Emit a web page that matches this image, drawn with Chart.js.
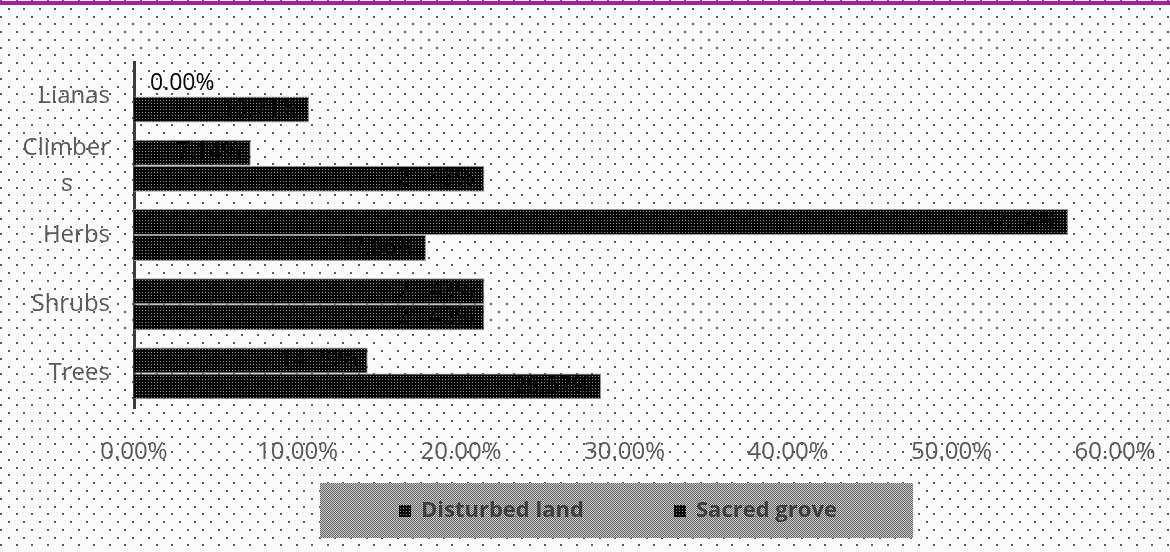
<!DOCTYPE html>
<html>
<head>
<meta charset="utf-8">
<script src="https://cdn.jsdelivr.net/npm/chart.js@4/dist/chart.umd.min.js"></script>
<style>
  html, body { margin: 0; padding: 0; background: #fff; }
  #wrap { width: 1170px; height: 552px; position: relative; }
</style>
</head>
<body>
<div id="wrap"><canvas id="myChart" width="1170" height="552"></canvas></div>
<script>
'use strict';

// data

let categories = ['Lianas', ['Climber', 's\u00a0\u00a0\u00a0\u00a0\u00a0\u00a0'], 'Herbs', 'Shrubs', 'Trees'];
let seriesNames = ['Disturbed land', 'Sacred grove'];
let disturbedLand = [0, 7.14, 57.14, 21.43, 14.29];
let sacredGrove = [10.71, 21.43, 17.86, 21.43, 28.57];
let xTicks = [0, 10, 20, 30, 40, 50, 60];

// patterns

function makeDotsPattern(ctx) {
  let tile = document.createElement('canvas');
  tile.width = 140;
  tile.height = 140;
  let t = tile.getContext('2d');
  t.fillStyle = '#fbfbfb';
  t.fillRect(0, 0, 140, 140);
  t.fillStyle = '#5a5a5a';
  let step = 140 / 9;
  for (let row = 0; row < 18; row++) {
    let y = Math.round(row * step / 2);
    let shift = row % 2 === 0 ? 0 : step / 2;
    for (let col = 0; col < 9; col++) {
      let x = Math.round(col * step + shift);
      t.fillRect(x, y, 2, 2);
    }
  }
  return ctx.createPattern(tile, 'repeat');
}

function makeBarPattern() {
  let tile = document.createElement('canvas');
  tile.width = 3;
  tile.height = 3;
  let t = tile.getContext('2d');
  t.fillStyle = '#050505';
  t.fillRect(0, 0, 3, 3);
  t.fillStyle = '#8c8c8c';
  t.fillRect(1, 1, 1, 1);
  return t.createPattern(tile, 'repeat');
}

function makeCheckerPattern(ctx) {
  let tile = document.createElement('canvas');
  tile.width = 2;
  tile.height = 2;
  let t = tile.getContext('2d');
  t.fillStyle = '#c4c4c4';
  t.fillRect(0, 0, 2, 2);
  t.fillStyle = '#6a6a6a';
  t.fillRect(0, 0, 1, 1);
  t.fillRect(1, 1, 1, 1);
  return ctx.createPattern(tile, 'repeat');
}

let barPattern = makeBarPattern();

function formatPct(v) {
  return v.toFixed(2) + '%';
}

// plugins

const backgroundPlugin = {
  id: 'backgroundPlugin',
  beforeDraw(chart) {
    let ctx = chart.ctx;
    ctx.save();
    ctx.fillStyle = makeDotsPattern(ctx);
    ctx.fillRect(0, 0, chart.width, chart.height);
    ctx.fillStyle = '#a21fa8';
    ctx.fillRect(0, 1, chart.width, 4);
    ctx.restore();
  }
};

const barLabelsPlugin = {
  id: 'barLabelsPlugin',
  afterDatasetsDraw(chart) {
    let ctx = chart.ctx;
    ctx.save();
    ctx.font = '23px "Open Sans"';
    ctx.textBaseline = 'middle';
    chart.data.datasets.forEach((ds, di) => {
      let meta = chart.getDatasetMeta(di);
      meta.data.forEach((bar, i) => {
        let v = ds.data[i];
        ctx.fillStyle = '#000';
        if (v === 0) {
          ctx.textAlign = 'left';
          ctx.fillText(formatPct(v), bar.base + 16, bar.y);
        } else {
          ctx.textAlign = 'right';
          ctx.fillText(formatPct(v), bar.x - 10, bar.y);
        }
      });
    });
    ctx.restore();
  }
};

const legendBoxPlugin = {
  id: 'legendBoxPlugin',
  afterDraw(chart) {
    let ctx = chart.ctx;
    ctx.save();
    ctx.fillStyle = makeCheckerPattern(ctx);
    ctx.fillRect(320, 483, 593, 55);
    let items = [
      { x: 399, label: seriesNames[0] },
      { x: 674, label: seriesNames[1] }
    ];
    ctx.font = 'bold 22px "Open Sans"';
    ctx.textBaseline = 'middle';
    ctx.textAlign = 'left';
    items.forEach(item => {
      ctx.fillStyle = barPattern;
      ctx.fillRect(item.x, 505, 12, 12);
      ctx.fillStyle = '#3f3f3f';
      ctx.fillText(item.label, item.x + 22, 511);
    });
    ctx.restore();
  }
};

// chart

const ctx = document.getElementById('myChart');
new Chart(ctx, {
  type: 'bar',
  data: {
    labels: categories,
    datasets: [
      {
        label: seriesNames[0],
        data: disturbedLand,
        backgroundColor: barPattern,
        borderColor: '#9a9a9a',
        borderWidth: 1,
        categoryPercentage: 0.75,
        barPercentage: 1
      },
      {
        label: seriesNames[1],
        data: sacredGrove,
        backgroundColor: barPattern,
        borderColor: '#9a9a9a',
        borderWidth: 1,
        categoryPercentage: 0.75,
        barPercentage: 1
      }
    ]
  },
  options: {
    indexAxis: 'y',
    responsive: false,
    animation: false,
    layout: { padding: { top: 62, right: 55, bottom: 80, left: 0 } },
    plugins: {
      legend: { display: false },
      tooltip: { enabled: false }
    },
    scales: {
      x: {
        min: 0,
        max: 60,
        afterBuildTicks(scale) {
          scale.ticks = xTicks.map(v => ({ value: v }));
        },
        afterFit(scale) {
          scale.height = 64;
          scale.paddingLeft = 0;
          scale.paddingRight = 0;
        },
        grid: { display: false, drawTicks: false },
        border: { display: false },
        ticks: {
          padding: 30,
          color: '#595959',
          font: { family: 'Open Sans', size: 24 },
          maxRotation: 0,
          autoSkip: false,
          callback: v => formatPct(v)
        }
      },
      y: {
        afterFit(scale) {
          scale.width = 134;
          scale.paddingTop = 0;
          scale.paddingBottom = 0;
        },
        grid: { display: false, drawTicks: false },
        border: { display: true, color: '#3c3c3c', width: 3 },
        ticks: {
          padding: 24,
          autoSkip: false,
          color: '#595959',
          font: { family: 'Open Sans', size: 24, lineHeight: 1.5 }
        }
      }
    }
  },
  plugins: [backgroundPlugin, barLabelsPlugin, legendBoxPlugin]
});
</script>
</body>
</html>
